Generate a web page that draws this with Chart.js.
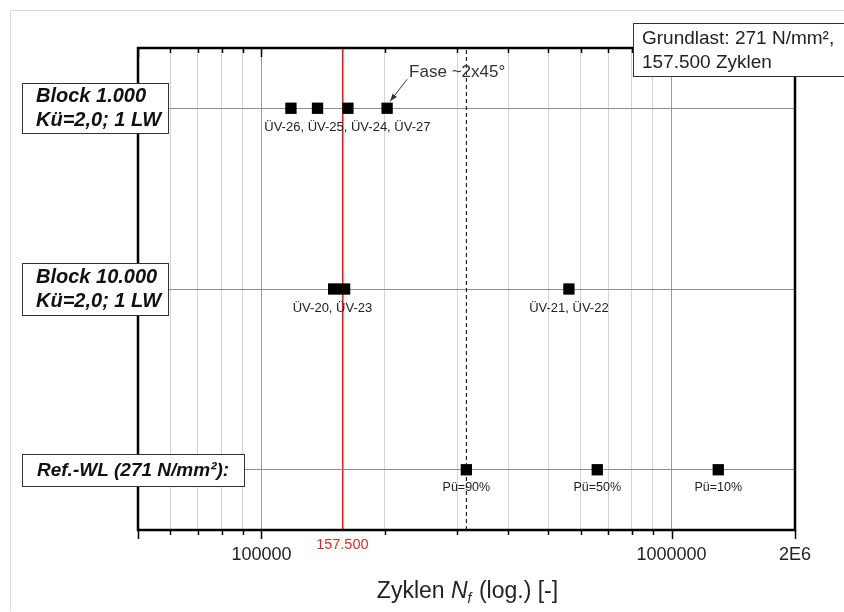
<!DOCTYPE html>
<html>
<head>
<meta charset="utf-8">
<script src="https://cdn.jsdelivr.net/npm/chart.js@4.4.1/dist/chart.umd.min.js"></script>
<style>
  body { margin: 0; background: #fff; }
  canvas { display: block; }
</style>
</head>
<body>
<canvas id="chart" width="844" height="612"></canvas>
<script>
// Daten (Zyklen bis Bruch, log. Achse)
const rowLabels = [['Block 1.000', 'Kü=2,0; 1 LW'], ['Block 10.000', 'Kü=2,0; 1 LW'], ['Ref.-WL (271 N/mm²):']];
const rowValues = [3, 2, 1];
const block1000Cycles = [118000, 137000, 162500, 202500];
const block10000Cycles = [150000, 159500, 562000];
const refCycles = [316000, 659000, 1300000];
const refLabels = ['Pü=90%', 'Pü=50%', 'Pü=10%'];
const groupLabels = ['ÜV-26, ÜV-25, ÜV-24, ÜV-27', 'ÜV-20, ÜV-23', 'ÜV-21, ÜV-22'];
const groupLabelCycles = [162000, 149000, 562000];
const groupLabelRows = [3, 2, 2];
const baseCycles = 157500;
const xTicks = [50000, 60000, 70000, 80000, 90000, 100000, 157500, 200000, 300000, 400000, 500000,
                600000, 700000, 800000, 900000, 1000000, 2000000];
const xTickLabels = { 100000: '100000', 1000000: '1000000', 2000000: '2E6' };
const majorTicks = [50000, 100000, 1000000, 2000000];

const FONT = "'Liberation Sans', Arial, sans-serif";

function rowPoints(values, row) {
    return values.map(v => ({ x: v, y: row }));
}

const decorPlugin = {
    id: 'decor',
    afterDraw: (chart) => {
        const ctx = chart.ctx;
        const xs = chart.scales.x;
        const ys = chart.scales.y;
        const area = chart.chartArea;
        ctx.save();

        // äußerer Rahmen
        ctx.strokeStyle = '#d9d9d9';
        ctx.lineWidth = 1;
        ctx.beginPath();
        ctx.moveTo(10.5, 611);
        ctx.lineTo(10.5, 10.5);
        ctx.lineTo(844, 10.5);
        ctx.stroke();

        // Ticks oben (innen) und unten (außen)
        ctx.strokeStyle = '#000';
        ctx.lineWidth = 1.5;
        xTicks.forEach(v => {
            if (v === baseCycles) return;
            const px = Math.round(xs.getPixelForValue(v)) + 0.5;
            const len = majorTicks.includes(v) ? 9 : 5;
            ctx.beginPath();
            ctx.moveTo(px, area.bottom);
            ctx.lineTo(px, area.bottom + len);
            ctx.moveTo(px, area.top);
            ctx.lineTo(px, area.top + len);
            ctx.stroke();
        });

        // Achsenrahmen
        ctx.lineWidth = 2.5;
        ctx.strokeRect(area.left, area.top, area.right - area.left, area.bottom - area.top);

        // rote Beschriftung 157.500
        ctx.fillStyle = '#e8272a';
        ctx.font = '14.5px ' + FONT;
        ctx.textAlign = 'center';
        ctx.textBaseline = 'middle';
        ctx.fillText('157.500', xs.getPixelForValue(baseCycles), area.bottom + 15);

        // Punktbeschriftungen
        ctx.fillStyle = '#222';
        ctx.font = '13px ' + FONT;
        groupLabels.forEach((t, i) => {
            ctx.fillText(t, xs.getPixelForValue(groupLabelCycles[i]), ys.getPixelForValue(groupLabelRows[i]) + 19);
        });
        ctx.font = '12.5px ' + FONT;
        refLabels.forEach((t, i) => {
            ctx.fillText(t, xs.getPixelForValue(refCycles[i]), ys.getPixelForValue(1) + 18);
        });

        // Fase-Hinweis mit Pfeil
        const tipX = xs.getPixelForValue(block1000Cycles[3]) + 3;
        const tipY = ys.getPixelForValue(3) - 7;
        ctx.font = '17px ' + FONT;
        ctx.textAlign = 'left';
        ctx.fillStyle = '#333';
        ctx.fillText('Fase ~2x45°', tipX + 19, tipY - 29);
        ctx.strokeStyle = '#333';
        ctx.lineWidth = 1;
        ctx.beginPath();
        ctx.moveTo(tipX + 17, tipY - 22);
        ctx.lineTo(tipX, tipY);
        ctx.stroke();
        const ang = Math.atan2(-22, 17);
        ctx.beginPath();
        ctx.moveTo(tipX, tipY);
        ctx.lineTo(tipX + 8 * Math.cos(ang - 0.35), tipY + 8 * Math.sin(ang - 0.35));
        ctx.lineTo(tipX + 8 * Math.cos(ang + 0.35), tipY + 8 * Math.sin(ang + 0.35));
        ctx.closePath();
        ctx.fill();

        // Kategorie-Kästen links
        const boxes = [
            { w: 146, h: 50, tx: 36 },
            { w: 146, h: 52, tx: 36 },
            { w: 222, h: 32, tx: 37 }
        ];
        ctx.font = 'italic bold 20px ' + FONT;
        rowLabels.forEach((lines, i) => {
            const cy = ys.getPixelForValue(rowValues[i]);
            const b = boxes[i];
            const top = Math.round(cy - b.h / 2) + 0.5;
            ctx.fillStyle = '#fff';
            ctx.fillRect(22.5, top, b.w, b.h);
            ctx.strokeStyle = '#333';
            ctx.lineWidth = 1;
            ctx.strokeRect(22.5, top, b.w, b.h);
            ctx.fillStyle = '#111';
            ctx.textAlign = 'left';
            if (lines.length === 2) {
                ctx.fillText(lines[0], b.tx, cy - 12);
                ctx.fillText(lines[1], b.tx, cy + 12);
            } else {
                ctx.font = 'italic bold 19px ' + FONT;
                ctx.fillText(lines[0], b.tx, cy + 1);
            }
        });

        // Infokasten oben rechts
        ctx.fillStyle = '#fff';
        ctx.fillRect(633.5, 23.5, 220, 53);
        ctx.strokeStyle = '#333';
        ctx.strokeRect(633.5, 23.5, 220, 53);
        ctx.fillStyle = '#222';
        ctx.font = '19px ' + FONT;
        ctx.fillText('Grundlast: 271 N/mm²,', 642, 39);
        ctx.fillText('157.500 Zyklen', 642, 63);

        // Achsentitel mit Index
        const p1 = 'Zyklen ';
        const p3 = ' (log.) [-]';
        ctx.font = '23px ' + FONT;
        const w1 = ctx.measureText(p1).width;
        const w3 = ctx.measureText(p3).width;
        ctx.font = 'italic 23px ' + FONT;
        const w2 = ctx.measureText('N').width;
        ctx.font = 'italic 14px ' + FONT;
        const wf = ctx.measureText('f').width;
        const total = w1 + w2 + wf + w3;
        let x0 = 467 - total / 2;
        const by = 598;
        ctx.textBaseline = 'alphabetic';
        ctx.fillStyle = '#222';
        ctx.font = '23px ' + FONT;
        ctx.fillText(p1, x0, by);
        x0 += w1;
        ctx.font = 'italic 23px ' + FONT;
        ctx.fillText('N', x0, by);
        x0 += w2;
        ctx.font = 'italic 14px ' + FONT;
        ctx.fillText('f', x0, by + 5);
        x0 += wf + 1;
        ctx.font = '23px ' + FONT;
        ctx.fillText(p3, x0, by);

        ctx.restore();
    }
};

const markerStyle = {
    pointStyle: 'rect',
    pointRadius: 8,
    pointHoverRadius: 8,
    backgroundColor: '#000',
    borderColor: '#000',
    borderWidth: 0
};

new Chart(document.getElementById('chart').getContext('2d'), {
    type: 'scatter',
    data: {
        datasets: [
            Object.assign({ label: 'Block 1.000', data: rowPoints(block1000Cycles, 3) }, markerStyle),
            Object.assign({ label: 'Block 10.000', data: rowPoints(block10000Cycles, 2) }, markerStyle),
            Object.assign({ label: 'Ref.-WL', data: rowPoints(refCycles, 1) }, markerStyle),
            {
                label: 'Pü=90%',
                data: [{ x: refCycles[0], y: 2 / 3 }, { x: refCycles[0], y: 10 / 3 }],
                showLine: true,
                borderColor: '#000',
                borderWidth: 1,
                borderDash: [4, 3],
                pointRadius: 0
            }
        ]
    },
    options: {
        responsive: false,
        animation: false,
        layout: {
            padding: { left: 138, right: 49, top: 48, bottom: 22 }
        },
        plugins: {
            legend: { display: false },
            tooltip: { enabled: false }
        },
        scales: {
            x: {
                type: 'logarithmic',
                min: 50000,
                max: 2000000,
                afterBuildTicks: (scale) => {
                    scale.ticks = xTicks.map(v => ({ value: v }));
                },
                afterFit: (scale) => { scale.height = 60; },
                border: { display: false },
                grid: {
                    drawTicks: false,
                    lineWidth: (c) => c.tick && c.tick.value === baseCycles ? 1.5 : 1,
                    color: (c) => {
                        const v = c.tick ? c.tick.value : 0;
                        if (v === baseCycles) return '#ee1c1c';
                        if (v === 100000 || v === 1000000) return '#9a9a9a';
                        return '#d4d4d4';
                    }
                },
                ticks: {
                    autoSkip: false,
                    maxRotation: 0,
                    padding: 14,
                    color: '#222',
                    font: { family: FONT, size: 18 },
                    callback: (v) => xTickLabels[v] || ''
                }
            },
            y: {
                type: 'linear',
                min: 2 / 3,
                max: 10 / 3,
                afterBuildTicks: (scale) => {
                    scale.ticks = rowValues.map(v => ({ value: v }));
                },
                afterFit: (scale) => { scale.width = 0; },
                border: { display: false },
                grid: { drawTicks: false, color: '#8f8f8f', lineWidth: 1 },
                ticks: { display: false }
            }
        }
    },
    plugins: [decorPlugin]
});
</script>
</body>
</html>
